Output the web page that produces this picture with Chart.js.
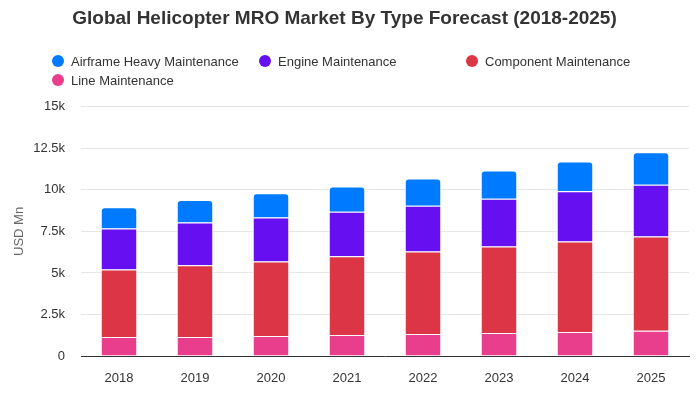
<!DOCTYPE html>
<html>
<head>
<meta charset="utf-8">
<script src="https://cdn.jsdelivr.net/npm/chart.js@4/dist/chart.umd.min.js"></script>
<style>
  body { margin: 0; background: #fff; }
  #graf { display: block; }
</style>
</head>
<body>
<canvas id="graf" width="700" height="400"></canvas>
<script>
const anios = ['2018','2019','2020','2021','2022','2023','2024','2025'];
const lineMaint = [1140,1150,1200,1260,1320,1380,1440,1520];
const componentMaint = [4070,4320,4490,4750,4970,5210,5450,5670];
const engineMaint = [2460,2560,2640,2680,2760,2880,3020,3120];
const airframeMaint = [1280,1360,1460,1520,1630,1690,1790,1950];
const yTicks = [0,2500,5000,7500,10000,12500,15000];
const yTickLabels = ['0','2.5k','5k','7.5k','10k','12.5k','15k'];

const fuente = '"Liberation Sans", Arial, sans-serif';

// orden de la leyenda (como en la imagen)
const leyendaOrden = [3, 2, 1, 0];

const leyendaGrid = {
  id: 'leyendaGrid',
  afterDraw(chart) {
    const ctx = chart.ctx;
    ctx.save();
    ctx.font = '13px ' + fuente;
    ctx.textBaseline = 'middle';
    leyendaOrden.forEach((di, k) => {
      const ds = chart.data.datasets[di];
      const col = k % 3, fila = Math.floor(k / 3);
      const cx = 58 + col * 207, cy = 61 + fila * 19;
      ctx.fillStyle = ds.backgroundColor;
      ctx.beginPath();
      ctx.arc(cx, cy, 6, 0, Math.PI * 2);
      ctx.fill();
      ctx.fillStyle = '#333';
      ctx.fillText(ds.label, cx + 13, cy + 1);
    });
    ctx.restore();
  }
};

const cnv = document.getElementById('graf');
new Chart(cnv, {
  type: 'bar',
  data: {
    labels: anios,
    datasets: [
      { label: 'Line Maintenance', data: lineMaint, backgroundColor: '#e83e8c' },
      { label: 'Component Maintenance', data: componentMaint, backgroundColor: '#dc3545' },
      { label: 'Engine Maintenance', data: engineMaint, backgroundColor: '#6610f2' },
      { label: 'Airframe Heavy Maintenance', data: airframeMaint, backgroundColor: '#007bff',
        borderRadius: { topLeft: 4, topRight: 4 } }
    ]
  },
  options: {
    responsive: false,
    animation: false,
    layout: { padding: { left: 0, right: 11, top: 0, bottom: 0 } },
    datasets: {
      bar: { borderColor: '#fff', borderWidth: 1, barPercentage: 0.48, categoryPercentage: 1 }
    },
    plugins: {
      legend: { display: false },
      tooltip: { enabled: false },
      title: {
        display: true,
        text: 'Global Helicopter MRO Market By Type Forecast (2018-2025)',
        color: '#333',
        font: { family: fuente, size: 19, weight: 'bold' },
        padding: { top: 7, bottom: 77 }
      }
    },
    scales: {
      x: {
        stacked: true,
        grid: { display: false, drawTicks: false },
        border: { color: '#333', width: 1 },
        ticks: { color: '#333', font: { family: fuente, size: 13 }, padding: 15 },
        afterFit(s) { s.height = 44; }
      },
      y: {
        stacked: true,
        min: 0, max: 15000,
        afterBuildTicks(s) { s.ticks = yTicks.map(v => ({ value: v })); },
        grid: { color: '#e6e6e6', drawTicks: false },
        border: { display: false },
        ticks: {
          color: '#333', font: { family: fuente, size: 13 }, padding: 16,
          callback: (v) => yTickLabels[yTicks.indexOf(v)]
        },
        title: {
          display: true, text: 'USD Mn', color: '#666',
          font: { family: fuente, size: 13 }, padding: { top: 12, bottom: 0 }
        },
        afterFit(s) { s.width = 81; }
      }
    }
  },
  plugins: [leyendaGrid]
});
</script>
</body>
</html>
